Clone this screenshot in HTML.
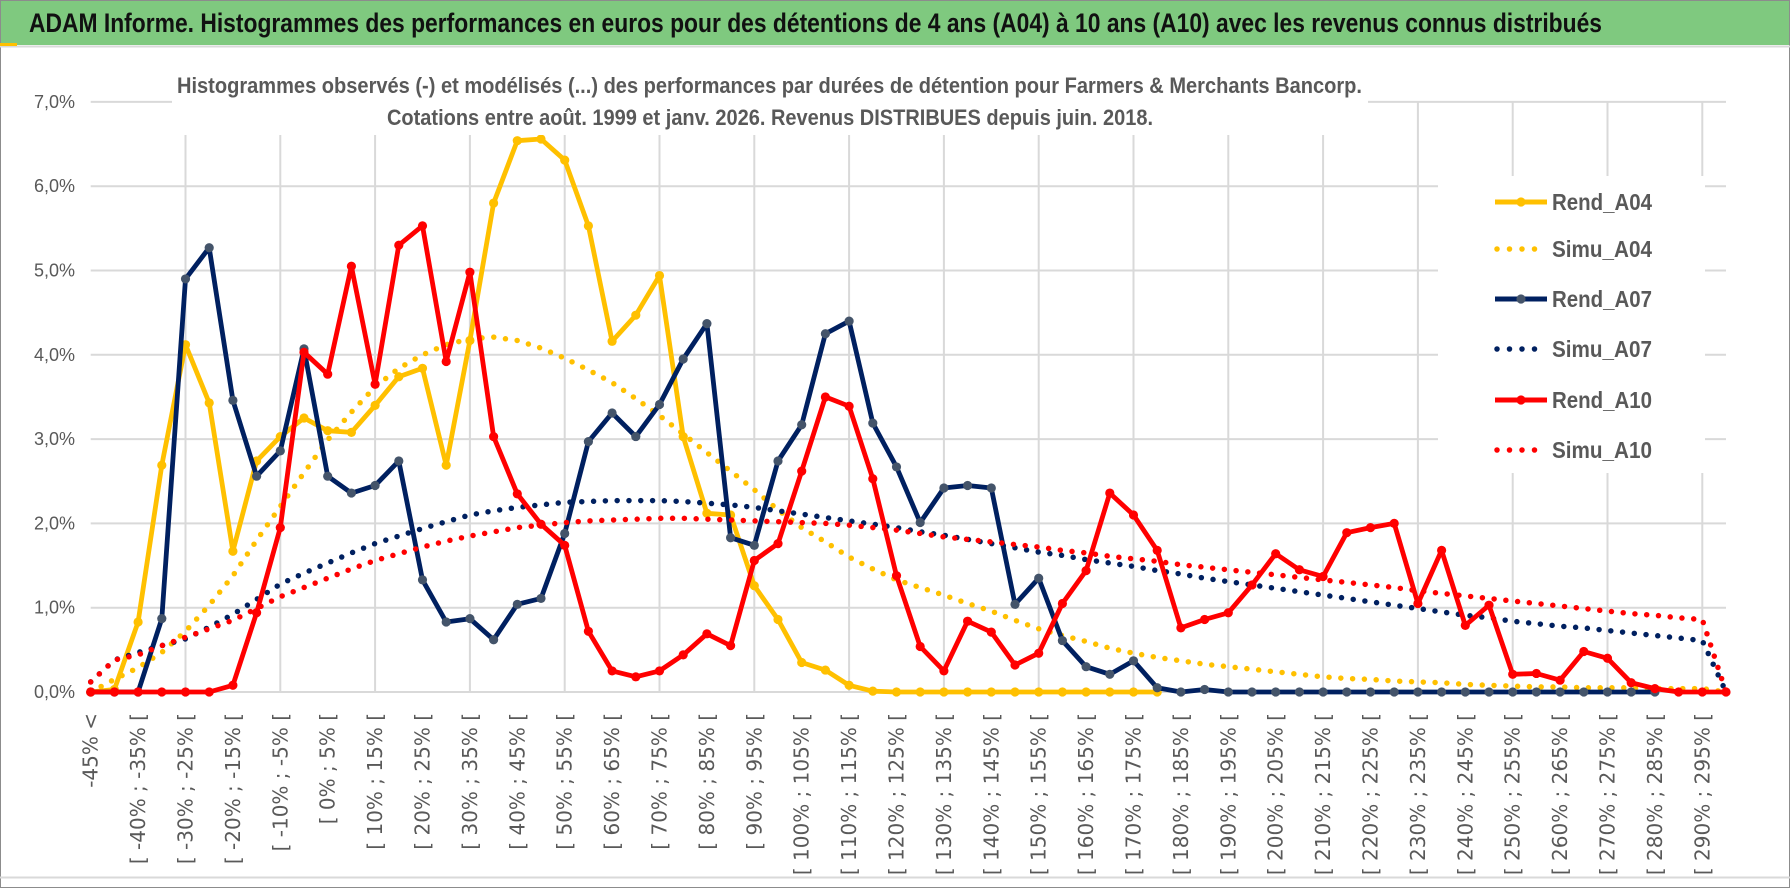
<!DOCTYPE html>
<html><head><meta charset="utf-8">
<style>
html,body{margin:0;padding:0;background:#fff;}
svg{display:block;}
text{font-family:"Liberation Sans Narrow","Liberation Sans",sans-serif;}
</style></head>
<body>
<svg id="chart" width="1790" height="888" viewBox="0 0 1790 888" xmlns="http://www.w3.org/2000/svg">
  <rect x="0" y="0" width="1790" height="888" fill="#fff"/>
  <rect x="0.5" y="0.5" width="1789" height="887" fill="none" stroke="#8c8c8c" stroke-width="1"/>
  <rect x="1" y="1" width="1788" height="44" fill="#7FC97F"/>
  <text x="29" y="32" font-size="27" font-weight="bold" fill="#111" textLength="1573" lengthAdjust="spacingAndGlyphs">ADAM Informe. Histogrammes des performances en euros pour des détentions de 4 ans (A04) à 10 ans (A10) avec les revenus connus distribués</text>
  <line x1="0" y1="46.5" x2="1790" y2="46.5" stroke="#d9d9d9" stroke-width="2"/>
  <line x1="0" y1="877.5" x2="1790" y2="877.5" stroke="#d9d9d9" stroke-width="2"/>
  <rect x="0" y="43" width="17" height="3" fill="#FFC000"/>
  <g id="grid"></g>
  <g id="series"></g>
  <rect x="172" y="60" width="1196" height="75" fill="#fff"/>
  <text x="177" y="93" font-size="22" font-weight="bold" fill="#595959" textLength="1185" lengthAdjust="spacingAndGlyphs">Histogrammes observés (-) et modélisés (...) des performances par durées de détention pour Farmers &amp; Merchants Bancorp.</text>
  <text x="387" y="125" font-size="22" font-weight="bold" fill="#595959" textLength="766" lengthAdjust="spacingAndGlyphs">Cotations entre août. 1999 et janv. 2026. Revenus DISTRIBUES depuis juin. 2018.</text>
  <rect x="1438" y="176" width="267" height="297" fill="#fff"/>
  <g id="legend"></g>
  <g id="yaxis"></g>
  <g id="xaxis"></g>
</svg>
<script>
const yTicks = [0,1,2,3,4,5,6,7];
const yTickLabels = ["0,0%","1,0%","2,0%","3,0%","4,0%","5,0%","6,0%","7,0%"];
const tickLabels = ["-45% <","[ -40% ; -35% [","[ -30% ; -25% [","[ -20% ; -15% [","[ -10% ; -5% [","[ 0% ; 5% [","[ 10% ; 15% [","[ 20% ; 25% [","[ 30% ; 35% [","[ 40% ; 45% [","[ 50% ; 55% [","[ 60% ; 65% [","[ 70% ; 75% [","[ 80% ; 85% [","[ 90% ; 95% [","[ 100% ; 105% [","[ 110% ; 115% [","[ 120% ; 125% [","[ 130% ; 135% [","[ 140% ; 145% [","[ 150% ; 155% [","[ 160% ; 165% [","[ 170% ; 175% [","[ 180% ; 185% [","[ 190% ; 195% [","[ 200% ; 205% [","[ 210% ; 215% [","[ 220% ; 225% [","[ 230% ; 235% [","[ 240% ; 245% [","[ 250% ; 255% [","[ 260% ; 265% [","[ 270% ; 275% [","[ 280% ; 285% [","[ 290% ; 295% ["];
const categoryCount = 70;
const seriesNames = ["Rend_A04","Simu_A04","Rend_A07","Simu_A07","Rend_A10","Simu_A10"];
const rendA04 = [0,0.03,0.83,2.69,4.12,3.43,1.67,2.74,3.03,3.25,3.10,3.08,3.40,3.74,3.84,2.69,4.17,5.80,6.54,6.56,6.31,5.53,4.16,4.47,4.94,3.03,2.12,2.10,1.26,0.86,0.35,0.26,0.08,0.01,0,0,0,0,0,0,0,0,0,0,0,0,null,null,null,null,null,null,null,null,null,null,null,null,null,null,null,null,null,null,null,null,null,null,null,null];
const simuA04 = [0,0.15,0.29,0.47,0.72,1.03,1.38,1.80,2.20,2.60,2.99,3.32,3.62,3.84,4.00,4.12,4.19,4.21,4.17,4.08,3.96,3.82,3.67,3.48,3.28,3.06,2.84,2.62,2.40,2.16,1.95,1.78,1.60,1.46,1.33,1.24,1.15,1.05,0.96,0.85,0.75,0.67,0.60,0.52,0.46,0.41,0.37,0.33,0.30,0.27,0.24,0.21,0.18,0.16,0.15,0.13,0.12,0.11,0.09,0.08,0.07,0.06,0.06,0.05,0.05,0.05,0.04,0.04,0.04,0];
const rendA07 = [0,0,0,0.87,4.90,5.27,3.46,2.56,2.86,4.07,2.56,2.36,2.45,2.74,1.33,0.83,0.87,0.62,1.04,1.11,1.88,2.97,3.31,3.03,3.41,3.95,4.37,1.83,1.74,2.74,3.17,4.25,4.40,3.19,2.67,2.01,2.42,2.45,2.42,1.04,1.35,0.61,0.30,0.21,0.37,0.05,0,0.03,0,0,0,0,0,0,0,0,0,0,0,0,0,0,0,0,0,0,0,null,null,null];
const simuA07 = [0.12,0.38,0.47,0.55,0.63,0.77,0.92,1.10,1.28,1.41,1.53,1.65,1.76,1.85,1.94,2.02,2.10,2.15,2.19,2.22,2.25,2.26,2.27,2.27,2.27,2.26,2.24,2.22,2.19,2.15,2.11,2.07,2.03,1.99,1.95,1.90,1.86,1.81,1.76,1.71,1.66,1.62,1.57,1.53,1.49,1.44,1.40,1.35,1.31,1.27,1.23,1.19,1.15,1.11,1.07,1.03,0.99,0.95,0.91,0.88,0.84,0.81,0.78,0.76,0.73,0.70,0.67,0.64,0.61,0];
const rendA10 = [0,0,0,0,0,0,0.08,0.94,1.95,4.03,3.77,5.05,3.65,5.30,5.53,3.92,4.98,3.03,2.35,1.99,1.74,0.72,0.25,0.18,0.25,0.44,0.69,0.55,1.56,1.76,2.62,3.50,3.39,2.53,1.38,0.54,0.25,0.84,0.71,0.32,0.46,1.05,1.44,2.36,2.10,1.68,0.76,0.86,0.94,1.27,1.64,1.45,1.37,1.89,1.95,2.00,1.05,1.68,0.79,1.03,0.21,0.22,0.14,0.48,0.40,0.11,0.04,0,0,0];
const simuA10 = [0.12,0.38,0.44,0.55,0.65,0.75,0.85,0.99,1.13,1.24,1.35,1.46,1.56,1.64,1.72,1.79,1.85,1.90,1.95,1.98,2.01,2.03,2.04,2.05,2.06,2.06,2.05,2.04,2.03,2.02,2.01,2.00,1.98,1.95,1.92,1.88,1.84,1.81,1.78,1.75,1.72,1.68,1.65,1.61,1.58,1.55,1.51,1.48,1.45,1.42,1.39,1.36,1.33,1.30,1.27,1.24,1.20,1.17,1.14,1.11,1.08,1.05,1.02,0.99,0.96,0.93,0.91,0.88,0.86,0];

const NS = "http://www.w3.org/2000/svg";
const x0 = 90.7, x1 = 1726, yBase = 692, yPerUnit = 84.3;
function xScale(i){ return x0 + i * (x1 - x0) / (categoryCount - 1); }
function yScale(v){ return yBase - v * yPerUnit; }
function mk(tag, attrs, parent){
  const el = document.createElementNS(NS, tag);
  for (const k in attrs) el.setAttribute(k, attrs[k]);
  parent.appendChild(el);
  return el;
}
const grid = document.getElementById('grid');
const yaxis = document.getElementById('yaxis');
const xaxis = document.getElementById('xaxis');
const seriesG = document.getElementById('series');
const legend = document.getElementById('legend');

yTicks.forEach((t, k) => {
  const y = yScale(t);
  const ln = mk('line', {x1: x0, x2: x1, y1: y, y2: y, stroke: '#d9d9d9', 'stroke-width': 2}, grid);
  
  
  const tx = mk('text', {x: 75, y: y + 6, 'text-anchor': 'end', 'font-size': 18, fill: '#595959'}, yaxis);
  tx.textContent = yTickLabels[k];
  
  
});
for (let i = 4; i < categoryCount; i += 4) {
  const x = xScale(i);
  const ln = mk('line', {x1: x, x2: x, y1: yScale(7), y2: yBase, stroke: '#d9d9d9', 'stroke-width': 2}, grid);
  
  
}
tickLabels.forEach((lab, k) => {
  const x = xScale(k * 2);
  const tx = mk('text', {x: 0, y: 0, 'text-anchor': 'end', 'font-size': 20, fill: '#595959',
    transform: 'translate(' + (x + 7) + ',713) rotate(-90)',
    style: 'font-family:"DejaVu Sans","Liberation Sans",sans-serif'}, xaxis);
  tx.textContent = lab;
  
  
});

const defs = [
  {data: rendA04, color: '#FFC000', marker: '#FFC000', dotted: false, name: 'rend-a04-line'},
  {data: simuA04, color: '#FFC000', dotted: true, name: 'simu-a04-line'},
  {data: rendA07, color: '#002060', marker: '#44546A', dotted: false, name: 'rend-a07-line'},
  {data: simuA07, color: '#002060', dotted: true, name: 'simu-a07-line'},
  {data: rendA10, color: '#FF0000', marker: '#FF0000', dotted: false, name: 'rend-a10-line'},
  {data: simuA10, color: '#FF0000', dotted: true, name: 'simu-a10-line'}
];
defs.forEach(s => {
  let d = '';
  let pen = false;
  s.data.forEach((v, i) => {
    if (v === null) { pen = false; return; }
    d += (pen ? 'L' : 'M') + xScale(i).toFixed(1) + ',' + yScale(v).toFixed(1);
    pen = true;
  });
  const p = mk('path', {d: d, fill: 'none', stroke: s.color,
    'stroke-width': s.dotted ? 5.5 : 4.8, 'stroke-linejoin': 'round',
    'stroke-linecap': 'round', 'stroke-dasharray': s.dotted ? '0 11.8' : 'none'}, seriesG);
  
  
  if (!s.dotted) {
    s.data.forEach((v, i) => {
      if (v === null) return;
      const c = mk('circle', {cx: xScale(i), cy: yScale(v), r: 4.6, fill: s.marker}, seriesG);
      
      
    });
  }
});

const legY = [202, 249, 299, 349, 400, 450];
seriesNames.forEach((nm, k) => {
  const s = defs[k];
  const y = legY[k];
  const g = mk('g', {}, legend);
  
  
  if (s.dotted) {
    mk('line', {x1: 1497, x2: 1547, y1: y, y2: y, stroke: s.color, 'stroke-width': 5.5,
      'stroke-linecap': 'round', 'stroke-dasharray': '0 12.5'}, g);
  } else {
    mk('line', {x1: 1495, x2: 1547, y1: y, y2: y, stroke: s.color, 'stroke-width': 5}, g);
    mk('circle', {cx: 1521, cy: y, r: 4.6, fill: s.marker}, g);
  }
  const t = mk('text', {x: 1552, y: y + 8, 'font-size': 23, 'font-weight': 'bold', fill: '#595959',
    textLength: 100, lengthAdjust: 'spacingAndGlyphs'}, g);
  t.textContent = nm;
});
</script>
</body></html>
